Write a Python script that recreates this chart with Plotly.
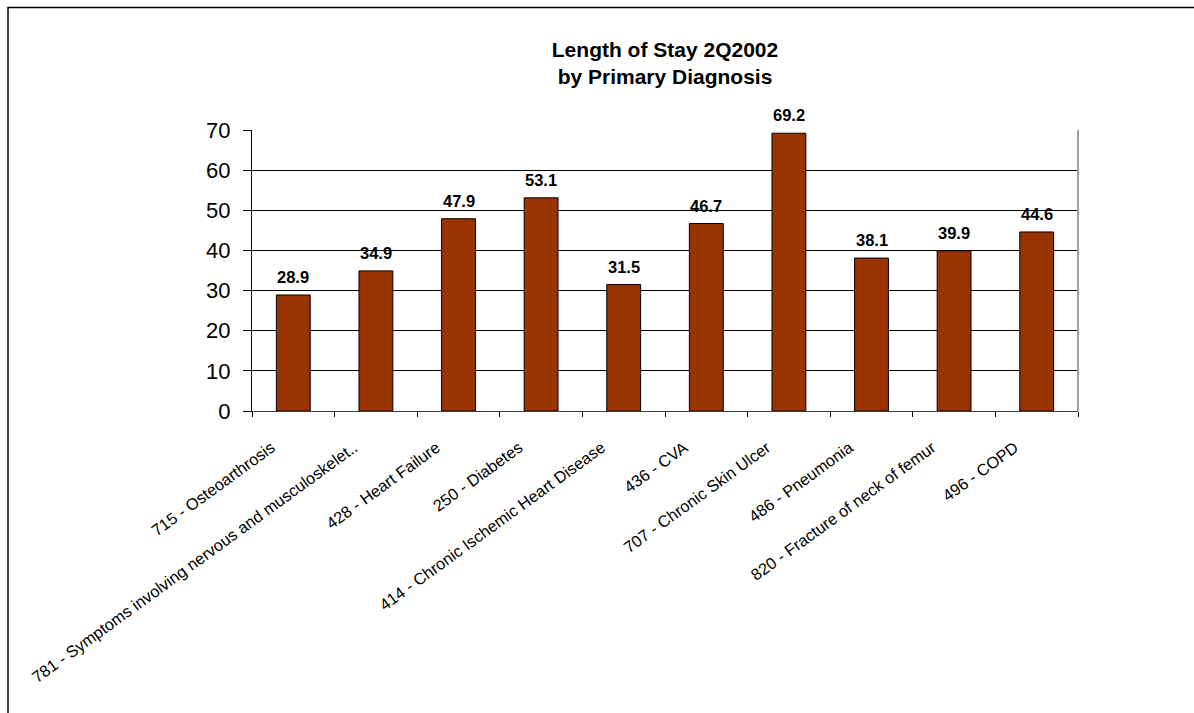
import plotly.graph_objects as go

categories = [
    "715 - Osteoarthrosis",
    "781 - Symptoms involving nervous and musculoskelet..",
    "428 - Heart Failure",
    "250 - Diabetes",
    "414 - Chronic Ischemic Heart Disease",
    "436 - CVA",
    "707 - Chronic Skin Ulcer",
    "486 - Pneumonia",
    "820 - Fracture of neck of femur",
    "496 - COPD",
]
values = [28.9, 34.9, 47.9, 53.1, 31.5, 46.7, 69.2, 38.1, 39.9, 44.6]
y_ticks = [0, 10, 20, 30, 40, 50, 60, 70]

W, H = 1194, 713
L, R, T, B = 252, 116, 130, 302
pw, ph = W - L - R, H - T - B
FONT = "Arial, Liberation Sans, sans-serif"

fig = go.Figure()
fig.add_trace(go.Bar(
    x=categories, y=values,
    marker=dict(color="#993300", line=dict(color="black", width=1)),
    width=0.41,
))

for c, v in zip(categories, values):
    fig.add_annotation(
        x=c, y=v, text=f"<b>{v:.1f}</b>", showarrow=False,
        yanchor="bottom", yshift=7,
        font=dict(family=FONT, size=16.5, color="black"),
    )

fig.update_layout(
    width=W, height=H,
    margin=dict(l=L, r=R, t=T, b=B),
    paper_bgcolor="white", plot_bgcolor="white",
    showlegend=False,
    font=dict(family=FONT, color="black"),
    title=dict(
        text="<b>Length of Stay 2Q2002<br>by Primary Diagnosis</b>",
        x=(L + pw / 2) / W, xanchor="center",
        y=1 - 57 / H, yanchor="middle",
        font=dict(size=21, family=FONT, color="black"),
    ),
    xaxis=dict(
        automargin=False,
        tickangle=-36,
        tickfont=dict(size=16.3, family=FONT, color="#000000"),
        showline=True, linecolor="#404040", linewidth=1,
        ticks="outside", ticklen=5, tickcolor="black",
        tickson="boundaries",
        ticklabelstandoff=20,
        ticklabelshift=-22,
        showgrid=False,
    ),
    yaxis=dict(
        automargin=False,
        range=[0, 70], tickvals=y_ticks,
        tickfont=dict(size=22, family=FONT, color="black"),
        showline=True, linecolor="black", linewidth=1,
        ticks="outside", ticklen=8, tickcolor="black",
        ticklabelstandoff=8,
        showgrid=True, gridcolor="black", gridwidth=1,
        zeroline=False,
    ),
)

# right border of the plot area (gray)
fig.add_shape(type="line", xref="paper", yref="paper", x0=1, x1=1, y0=0, y1=1,
              line=dict(color="#a0a0a0", width=2))
# outer chart frame (extends past right and bottom edges)
fig.add_shape(type="rect", xref="paper", yref="paper",
              x0=(8 - L) / pw, x1=(W + 10 - L) / pw,
              y0=(H - B - (H + 10)) / ph, y1=(H - B - 7.5) / ph,
              line=dict(color="black", width=1.5), layer="below")

fig.write_html("out.html")
